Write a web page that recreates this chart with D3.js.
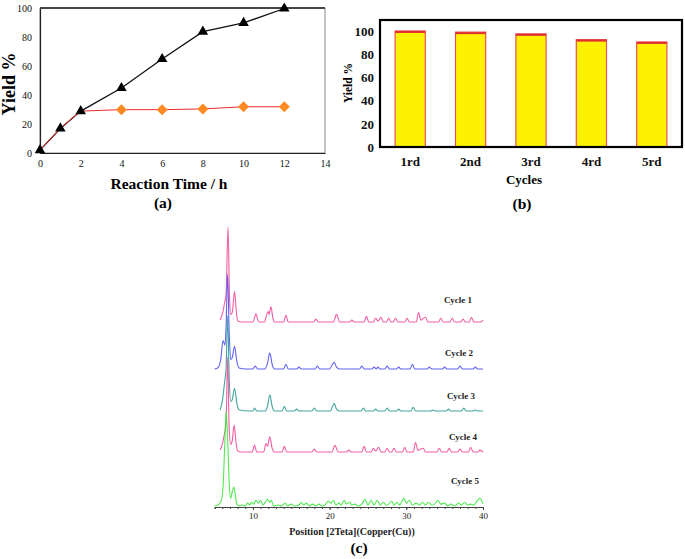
<!DOCTYPE html>
<html>
<head>
<meta charset="utf-8">
<script src="https://cdn.jsdelivr.net/npm/d3@7"></script>
<style>
html,body{margin:0;padding:0;background:#fff;}
svg{display:block;}
</style>
</head>
<body>
<svg id="chart" width="685" height="559"></svg>
<script>
// ---------- (a) yield vs reaction time ----------
const timeHours = [0, 1, 2, 4, 6, 8, 10, 12];
const yieldBlack = [2, 17, 29, 45, 65, 84, 90, 100];
const yieldOrange = [2, 17, 29, 30, 30, 30.5, 32, 32];
const orangeMarkerFrom = 3; // diamonds start at 4 h
const timeTicks = [0, 2, 4, 6, 8, 10, 12, 14];
const yieldTicksA = [0, 20, 40, 60, 80, 100];

// ---------- (b) recycling ----------
const cycles = ["1rd", "2nd", "3rd", "4rd", "5rd"];
const cycleYield = [100.5, 99.5, 98, 93, 91];
const yieldTicksB = [0, 20, 40, 60, 80, 100];

// ---------- (c) XRD patterns: [2theta, relative intensity] ----------
const cycleNames = ["Cycle 1", "Cycle 2", "Cycle 3", "Cycle 4", "Cycle 5"];
const xrd1 = [[5.7,2],[6.0,8],[6.3,20],[6.5,30],[6.75,100],[6.95,25],[7.1,8],[7.3,10],[7.6,32],[7.85,10],[8.0,1],[8.5,0],[10.0,0],[10.2,4],[10.4,9],[10.6,3],[10.8,0],[11.5,0],[11.8,8],[12.0,11],[12.1,8],[12.35,16],[12.6,4],[12.8,0],[14.0,0],[14.3,7],[14.6,0],[17.9,0],[18.2,3],[18.5,0],[20.5,0],[20.9,8],[21.3,0],[22.6,0],[22.9,2],[23.2,0],[24.5,0],[24.8,6],[25.1,0],[25.7,0],[26.0,4],[26.3,1],[26.7,5],[27.0,0],[27.4,0],[27.7,4],[28.0,0],[28.3,0],[28.6,4],[28.9,0],[29.8,0],[30.1,4],[30.4,0],[31.3,0],[31.6,10],[31.9,2],[32.5,5],[32.8,0],[34.2,0],[34.5,4],[34.8,0],[35.7,0],[36.0,4],[36.3,0],[37.1,0],[37.4,3],[37.7,0],[38.2,0],[38.5,5],[38.8,0],[39.7,0],[40,2]];
const xrd2 = [[5.0,0],[5.4,1],[5.8,10],[6.1,30],[6.35,25],[6.5,45],[6.7,100],[6.9,40],[7.1,10],[7.3,12],[7.6,24],[7.9,8],[8.2,1],[9.0,0],[10.0,0],[10.3,3],[10.6,0],[11.5,0],[11.9,6],[12.2,17],[12.5,5],[12.8,0],[14.0,0],[14.3,5],[14.6,0],[15.7,0],[16.0,2],[16.3,0],[18.1,0],[18.4,3],[18.7,0],[20.0,0],[20.3,4],[20.6,7],[20.9,2],[21.3,0],[23.9,0],[24.2,3],[24.5,0],[25.5,0],[25.8,2],[26.1,0],[26.3,2],[26.6,0],[27.2,0],[27.5,3],[27.8,0],[28.7,0],[29.0,2],[29.3,0],[30.5,0],[30.8,5],[31.1,0],[32.7,0],[33.0,2],[33.3,0],[34.7,0],[35.0,2],[35.3,0],[36.7,0],[37.0,3],[37.3,0],[38.7,0],[39.0,2],[39.3,0],[40,0]];
const xrd3 = [[5.7,1],[6.0,10],[6.3,30],[6.5,45],[6.7,100],[6.9,35],[7.1,10],[7.3,12],[7.6,24],[7.9,8],[8.2,1],[9.5,0],[10.0,0],[10.2,3],[10.5,0],[11.6,0],[11.9,5],[12.2,17],[12.5,5],[12.8,0],[13.8,0],[14.1,5],[14.4,0],[15.4,0],[15.7,2],[16.0,0],[17.7,0],[18.0,3],[18.3,0],[20.1,0],[20.4,5],[20.6,8],[20.9,2],[21.3,0],[24.1,0],[24.4,3],[24.7,0],[25.7,0],[26.0,2],[26.3,0],[27.2,0],[27.5,3],[27.8,0],[28.7,0],[29.0,2],[29.3,0],[30.6,0],[30.9,4],[31.2,0],[33.2,0],[33.5,1],[33.8,0],[35.2,0],[35.5,2],[35.8,0],[37.2,0],[37.5,3],[37.8,0],[38.7,0],[39.0,1],[39.3,0],[40,0]];
const xrd4 = [[5.7,2],[6.0,8],[6.3,20],[6.5,30],[6.7,100],[6.9,25],[7.1,8],[7.3,12],[7.55,28],[7.8,10],[8.0,1],[8.5,0],[9.9,0],[10.2,7],[10.5,0],[11.4,0],[11.7,9],[11.9,6],[12.2,16],[12.5,4],[12.8,0],[13.8,0],[14.1,6],[14.4,0],[17.7,0],[18.0,3],[18.3,0],[20.3,0],[20.7,7],[21.1,0],[22.2,0],[22.5,2],[22.8,0],[24.2,0],[24.5,6],[24.8,0],[25.4,0],[25.7,4],[26.0,1],[26.4,5],[26.7,0],[27.2,0],[27.5,4],[27.8,0],[28.1,0],[28.4,4],[28.7,0],[29.5,0],[29.8,5],[30.1,0],[30.9,0],[31.2,10],[31.5,2],[32.2,4],[32.5,0],[34.0,0],[34.3,4],[34.6,0],[35.3,0],[35.6,4],[35.9,0],[36.7,0],[37.0,3],[37.3,0],[38.1,0],[38.4,5],[38.7,0],[39.3,0],[39.6,2],[40,0]];
const xrd5 = [[5.0,0],[5.4,1],[5.8,4],[6.1,20],[6.3,60],[6.5,100],[6.7,70],[6.9,25],[7.1,8],[7.3,15],[7.5,20],[7.7,12],[7.9,2],[8.2,0],[8.6,1],[9.0,0],[9.3,3],[9.6,1],[9.8,4],[10.1,2],[10.4,6],[10.7,3],[11.0,6],[11.3,1],[11.6,4],[11.9,7],[12.2,4],[12.4,6],[12.7,0],[13.3,1],[13.7,0],[14.2,3],[14.5,0],[15.0,2],[15.4,0],[16.0,1],[16.3,4],[16.6,1],[17.0,3],[17.3,0],[17.8,2],[18.2,0],[18.6,2],[19.0,0],[19.4,1],[19.8,5],[20.2,3],[20.5,6],[20.8,1],[21.2,3],[21.5,1],[21.9,6],[22.2,2],[22.6,4],[22.9,1],[23.3,2],[23.7,0],[24.2,2],[24.6,7],[25.0,1],[25.4,6],[25.8,1],[26.2,6],[26.6,1],[27.0,4],[27.4,1],[27.7,2],[28.1,5],[28.4,1],[28.8,4],[29.1,1],[29.7,8],[30.0,3],[30.4,6],[30.8,1],[31.3,3],[31.7,1],[32.1,4],[32.5,1],[32.9,4],[33.3,1],[33.7,2],[34.1,6],[34.5,2],[35.0,3],[35.4,0],[35.8,2],[36.3,0],[36.8,3],[37.2,1],[37.6,4],[38.0,1],[38.4,2],[38.8,1],[39.3,6],[39.6,8],[40,2]];
const xrdSeries = [xrd1, xrd2, xrd3, xrd4, xrd5];
const thetaTicks = [10, 20, 30, 40];

const SERIF = "'Liberation Serif', 'Times New Roman', serif";
const svg = d3.select("#chart").attr("font-family", SERIF);

// ================= (a) =================
{
  const x = d3.scaleLinear().domain([0, 14]).range([40, 325]);
  const y = d3.scaleLinear().domain([0, 100]).range([153, 8.5]);
  const g = svg.append("g");
  g.append("rect").attr("x", 40).attr("y", 8.5).attr("width", 285).attr("height", 144.5)
    .attr("fill", "none").attr("stroke", "#888").attr("stroke-width", 1);
  g.append("line").attr("x1", 40).attr("x2", 325).attr("y1", 8).attr("y2", 8)
    .attr("stroke", "#444").attr("stroke-width", 2);
  const xa = g.append("g").attr("transform", "translate(0,153)")
    .call(d3.axisBottom(x).tickValues(timeTicks).tickSize(0).tickPadding(7));
  const ya = g.append("g").attr("transform", "translate(40,0)")
    .call(d3.axisLeft(y).tickValues(yieldTicksA).tickSize(0).tickPadding(8));
  [xa, ya].forEach(a => {
    a.attr("font-family", SERIF);
    a.select(".domain").attr("stroke", "#222").attr("stroke-width", 1.2);
    a.selectAll("text").attr("font-size", 10).attr("fill", "#111");
  });
  const line = d3.line().x((d, i) => x(timeHours[i])).y(d => y(d));
  g.append("path").datum(yieldBlack).attr("d", line).attr("fill", "none")
    .attr("stroke", "#111").attr("stroke-width", 1.3);
  g.append("path").datum(yieldOrange).attr("d", line).attr("fill", "none")
    .attr("stroke", "#ee2a2a").attr("stroke-width", 1);
  const diamond = { draw(ctx, size) { const r = Math.sqrt(size) / 2; ctx.moveTo(0, -r); ctx.lineTo(r, 0); ctx.lineTo(0, r); ctx.lineTo(-r, 0); ctx.closePath(); } };
  g.selectAll(".dia").data(yieldOrange.map((v, i) => [timeHours[i], v]).slice(orangeMarkerFrom))
    .enter().append("path")
    .attr("transform", d => `translate(${x(d[0])},${y(d[1])})`)
    .attr("d", d3.symbol().type(diamond).size(121)).attr("fill", "#ff8a24");
  g.selectAll(".tri").data(yieldBlack.map((v, i) => [timeHours[i], v]))
    .enter().append("path")
    .attr("transform", d => `translate(${x(d[0])},${y(d[1])})`)
    .attr("d", d3.symbol().type(d3.symbolTriangle).size(48)).attr("fill", "#000");
  g.append("text").attr("transform", "translate(15,84) rotate(-90)").attr("text-anchor", "middle")
    .attr("font-size", 18).attr("font-weight", "bold").text("Yield %");
  g.append("text").attr("x", 169).attr("y", 189).attr("text-anchor", "middle")
    .attr("font-size", 15.5).attr("font-weight", "bold").text("Reaction Time / h");
  g.append("text").attr("x", 163).attr("y", 208).attr("text-anchor", "middle")
    .attr("font-size", 15.5).attr("font-weight", "bold").text("(a)");
}

// ================= (b) =================
{
  const x = d3.scaleBand().domain(cycles).range([380, 682]).paddingInner(0.5).paddingOuter(0.25);
  const y = d3.scaleLinear().domain([0, 110]).range([147, 20]);
  const g = svg.append("g");
  g.selectAll(".bar").data(cycleYield).enter().append("rect")
    .attr("x", (d, i) => x(cycles[i])).attr("width", x.bandwidth())
    .attr("y", d => y(d)).attr("height", d => y(0) - y(d))
    .attr("fill", "#fff200").attr("stroke", "#e8505a").attr("stroke-width", 1.2);
  g.selectAll(".top").data(cycleYield).enter().append("line")
    .attr("x1", (d, i) => x(cycles[i])).attr("x2", (d, i) => x(cycles[i]) + x.bandwidth())
    .attr("y1", d => y(d) + 1).attr("y2", d => y(d) + 1)
    .attr("stroke", "#e03030").attr("stroke-width", 2);
  g.append("rect").attr("x", 380).attr("y", 20).attr("width", 302).attr("height", 127)
    .attr("fill", "none").attr("stroke", "#000").attr("stroke-width", 2.2);
  const ya = g.append("g").attr("transform", "translate(380,0)")
    .call(d3.axisLeft(y).tickValues(yieldTicksB).tickSize(0).tickPadding(6));
  const xa = g.append("g").attr("transform", "translate(0,147)")
    .call(d3.axisBottom(x).tickSize(0).tickPadding(10));
  [xa, ya].forEach(a => {
    a.attr("font-family", SERIF);
    a.select(".domain").remove();
    a.selectAll("text").attr("font-size", 13).attr("font-weight", "bold").attr("fill", "#111");
  });
  g.append("text").attr("transform", "translate(352,83) rotate(-90)").attr("text-anchor", "middle")
    .attr("font-size", 11.5).attr("font-weight", "bold").text("Yield %");
  g.append("text").attr("x", 524).attr("y", 184).attr("text-anchor", "middle")
    .attr("font-size", 13).attr("font-weight", "bold").text("Cycles");
  g.append("text").attr("x", 522).attr("y", 209).attr("text-anchor", "middle")
    .attr("font-size", 15.5).attr("font-weight", "bold").text("(b)");
}

// ================= (c) =================
{
  const x = d3.scaleLinear().domain([5, 40]).range([214.6, 483]);
  const baselines = [322, 369, 411, 452, 506];
  const colors = ["#f04c98", "#5050f0", "#2f9a97", "#f04c98", "#3ee83e"];
  const labelPos = [[458, 303], [459, 356], [461, 399], [463, 440], [465, 484]];
  const h = d3.scaleLinear().domain([0, 100]).range([0, 95]);
  const g = svg.append("g");
  const xa = g.append("g").attr("transform", "translate(0,507)")
    .call(d3.axisBottom(x).tickValues(d3.range(5, 41, 1)).tickSize(2).tickFormat(""));
  xa.select(".domain").attr("stroke", "#444");
  xa.selectAll(".tick line").attr("stroke", "#444");
  const xl = g.append("g").attr("transform", "translate(0,507)")
    .call(d3.axisBottom(x).tickValues(thetaTicks).tickSize(3).tickPadding(3));
  xl.attr("font-family", SERIF);
  xl.select(".domain").remove();
  xl.selectAll("line").attr("stroke", "#444");
  xl.selectAll("text").attr("font-size", 9).attr("fill", "#222");
  xrdSeries.forEach((s, k) => {
    const line = d3.line().curve(d3.curveMonotoneX)
      .x(d => x(d[0])).y(d => baselines[k] - h(d[1]));
    g.append("path").datum(s).attr("d", line).attr("fill", "none")
      .attr("stroke", colors[k]).attr("stroke-width", 1.1).attr("stroke-opacity", 0.9);
    g.append("text").attr("x", labelPos[k][0]).attr("y", labelPos[k][1]).attr("text-anchor", "middle")
      .attr("font-size", 9).attr("font-weight", "bold").attr("fill", "#222").text(cycleNames[k]);
  });
  g.append("text").attr("x", 352).attr("y", 535).attr("text-anchor", "middle")
    .attr("font-size", 10).attr("font-weight", "bold").attr("fill", "#222").text("Position [2Teta](Copper(Cu))");
  g.append("text").attr("x", 359).attr("y", 553).attr("text-anchor", "middle")
    .attr("font-size", 15.5).attr("font-weight", "bold").text("(c)");
}
</script>
</body>
</html>
